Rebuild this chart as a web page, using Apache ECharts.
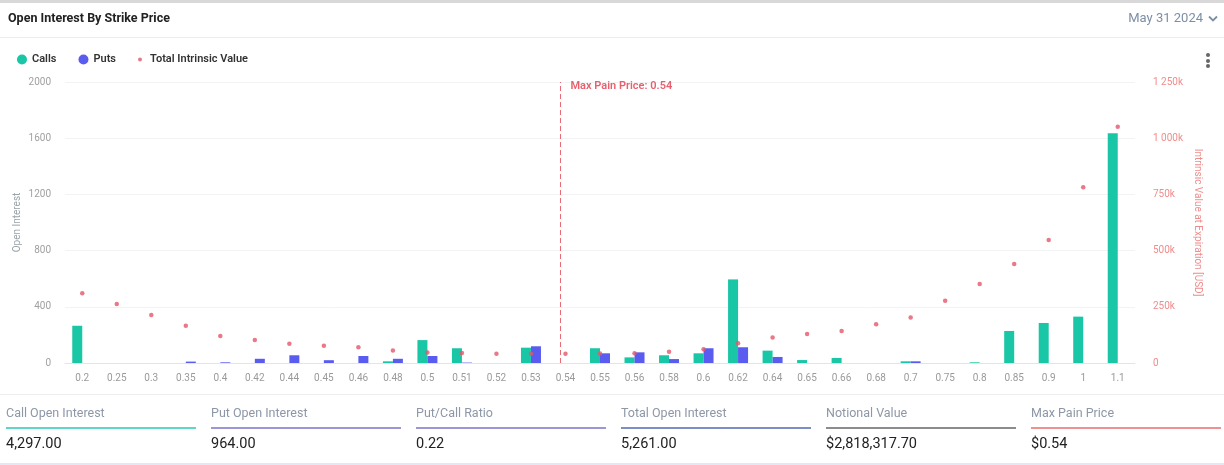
<!DOCTYPE html>
<html>
<head>
<meta charset="utf-8">
<script src="https://cdn.jsdelivr.net/npm/echarts@6/dist/echarts.min.js"></script>
<style>
  html, body { margin: 0; padding: 0; background: #fff; font-family: Roboto, "Noto Sans", sans-serif; }
  #wrap { position: relative; width: 1224px; height: 465px; overflow: hidden; background: #fff; }
  #chart { position: absolute; left: 0; top: 0; width: 1224px; height: 465px; }
  .topstrip { position: absolute; left: 0; top: 0; width: 1224px; height: 3px; background: #d8d8d8; }
  .title { position: absolute; left: 8px; top: 10px; font-size: 12.5px; font-weight: 700; color: #222; }
  .date { position: absolute; right: 6px; top: 10px; font-size: 13px; color: #7d8fa6; }
  .date svg { vertical-align: middle; margin-left: 5px; }
  .sep { position: absolute; left: 0; top: 37px; width: 1224px; height: 1px; background: #ececec; }
  .dots { position: absolute; left: 1206px; top: 53px; width: 4px; }
  .dots i { display: block; width: 4px; height: 4px; border-radius: 2px; background: #666; margin-bottom: 1.5px; }
  .stats { position: absolute; left: 0; top: 394px; width: 1224px; height: 68px; border-top: 1px solid #eeeeee; border-bottom: 2px solid #e6e6f4; }
  .stat { position: absolute; top: 0; width: 190px; }
  .stat .lab { position: absolute; top: 10px; left: 0; font-size: 12.5px; color: #8d97a7; white-space: nowrap; }
  .stat .bar { position: absolute; top: 32px; left: 0; width: 190px; height: 2px; }
  .stat .val { position: absolute; top: 40px; left: 0; font-size: 14.5px; color: #222; white-space: nowrap; }
</style>
</head>
<body>
<div id="wrap">
  <div id="chart"></div>
  <div class="topstrip"></div>
  <div class="title">Open Interest By Strike Price</div>
  <div class="date">May 31 2024<svg width="10" height="7" viewBox="0 0 10 7"><path d="M1 1.5 L5 5.5 L9 1.5" fill="none" stroke="#7d8fa6" stroke-width="1.8"/></svg></div>
  <div class="sep"></div>
  <div class="dots"><i></i><i></i><i></i></div>
  <div class="stats" id="stats"></div>
</div>
<script>
// ---- data ----
var categories = ['0.2','0.25','0.3','0.35','0.4','0.42','0.44','0.45','0.46','0.48','0.5','0.51','0.52','0.53','0.54','0.55','0.56','0.58','0.6','0.62','0.64','0.65','0.66','0.68','0.7','0.75','0.8','0.85','0.9','1','1.1'];
var callsOI = [265,0,0,0,0,0,0,0,0,12,163,105,0,109,0,105,40,55,69,595,88,21,36,0,12,0,5,228,285,330,1635];
var putsOI = [0,0,0,10,5,30,55,20,50,30,50,3,0,119,0,69,76,28,105,112,43,0,0,0,12,0,0,0,0,0,0];
var intrinsicValue = [310000,262000,213000,166000,120000,102000,86000,77000,70000,56000,47000,44000,41000,41000,41000,42000,43000,50000,61000,88000,113000,129000,142000,172000,202000,277000,351000,440000,547000,782000,1051000];
var maxPainStrike = '0.54';
var leftTicks = {min: 0, max: 2000, interval: 400};
var rightTicks = {min: 0, max: 1250000, interval: 250000};
var statLabels = ['Call Open Interest','Put Open Interest','Put/Call Ratio','Total Open Interest','Notional Value','Max Pain Price'];
var statValues = ['4,297.00','964.00','0.22','5,261.00','$2,818,317.70','$0.54'];
var statColors = ['#5fd6c8','#9d96d6','#9d96d6','#7d8ec6','#8c8c8c','#ec9292'];

// ---- stats row ----
var statsEl = document.getElementById('stats');
for (var i = 0; i < statLabels.length; i++) {
  var d = document.createElement('div');
  d.className = 'stat';
  d.style.left = (6 + i * 205) + 'px';
  d.innerHTML = '<div class="lab">' + statLabels[i] + '</div><div class="bar" style="background:' + statColors[i] + '"></div><div class="val">' + statValues[i] + '</div>';
  statsEl.appendChild(d);
}

var C_CALL = '#19c6a6', C_PUT = '#5a5cf0', C_IV = '#e4566a', C_MP = '#ea6a76';

function kFmt(v) {
  if (v === 0) return '0';
  var k = Math.round(v / 1000);
  return String(k).replace(/\B(?=(\d{3})+(?!\d))/g, ' ') + 'k';
}

var chart = echarts.init(document.getElementById('chart'), null, {renderer: 'canvas'});
chart.setOption({
  animation: false,
  textStyle: {fontFamily: 'Roboto, "Noto Sans", sans-serif'},
  legend: [{
    left: 12, top: 49, itemWidth: 10, itemHeight: 10, itemGap: 22, icon: 'circle',
    textStyle: {fontSize: 11, fontWeight: 600, color: '#333'},
    data: ['Calls', 'Puts']
  }, {
    left: 133, top: 49, itemWidth: 10, itemHeight: 4, icon: 'circle',
    textStyle: {fontSize: 11, fontWeight: 600, color: '#333'},
    data: ['Total Intrinsic Value']
  }],
  grid: {left: 65, right: 89, top: 82, bottom: 102, containLabel: false},
  xAxis: {
    type: 'category', data: categories, boundaryGap: true,
    axisTick: {show: false},
    axisLine: {lineStyle: {color: '#e4e4e4'}},
    axisLabel: {color: '#9a9a9a', fontSize: 10, margin: 10, interval: 0}
  },
  yAxis: [{
    type: 'value', min: leftTicks.min, max: leftTicks.max, interval: leftTicks.interval,
    name: 'Open Interest', nameLocation: 'middle', nameGap: 43, nameMoveOverlap: false,
    nameTextStyle: {color: '#9aa3a8', fontSize: 10},
    axisLine: {show: false}, axisTick: {show: false},
    axisLabel: {color: '#a0a0a0', fontSize: 10, margin: 14, formatter: function (v) { return String(v); }},
    splitLine: {lineStyle: {color: '#f3f3f3'}}
  }, {
    type: 'value', min: rightTicks.min, max: rightTicks.max, interval: rightTicks.interval,
    name: 'Intrinsic Value at Expiration [USD]', nameLocation: 'middle', nameGap: 57, nameRotate: -90, nameMoveOverlap: false,
    nameTextStyle: {color: '#ee8c8c', fontSize: 10},
    axisLine: {show: false}, axisTick: {show: false},
    axisLabel: {color: '#f08c8c', fontSize: 10, margin: 18, formatter: kFmt},
    splitLine: {show: false}
  }],
  series: [{
    name: 'Calls', type: 'bar', data: callsOI, yAxisIndex: 0,
    barWidth: 10, barGap: '0%',
    itemStyle: {color: C_CALL},
    markLine: {
      silent: true, symbol: 'none',
      itemStyle: {color: C_MP},
      lineStyle: {color: C_MP, type: [5, 3], width: 1, opacity: 1},
      label: {show: false},
      data: [{xAxis: maxPainStrike, lineStyle: {color: C_MP}}]
    },
    markPoint: {
      silent: true, symbol: 'circle', symbolSize: 0,
      label: {show: true, position: 'right', distance: 10, offset: [0, 4], color: '#e8606e', fontSize: 11, fontWeight: 600,
        formatter: 'Max Pain Price: ' + maxPainStrike},
      data: [{coord: [maxPainStrike, leftTicks.max]}]
    }
  }, {
    name: 'Puts', type: 'bar', data: putsOI, yAxisIndex: 0,
    barWidth: 10, barGap: '0%',
    itemStyle: {color: C_PUT}
  }, {
    name: 'Total Intrinsic Value', type: 'scatter', data: intrinsicValue, yAxisIndex: 1,
    symbol: 'circle', symbolSize: 4.5,
    itemStyle: {color: C_IV}
  }]
});
</script>
</body>
</html>
